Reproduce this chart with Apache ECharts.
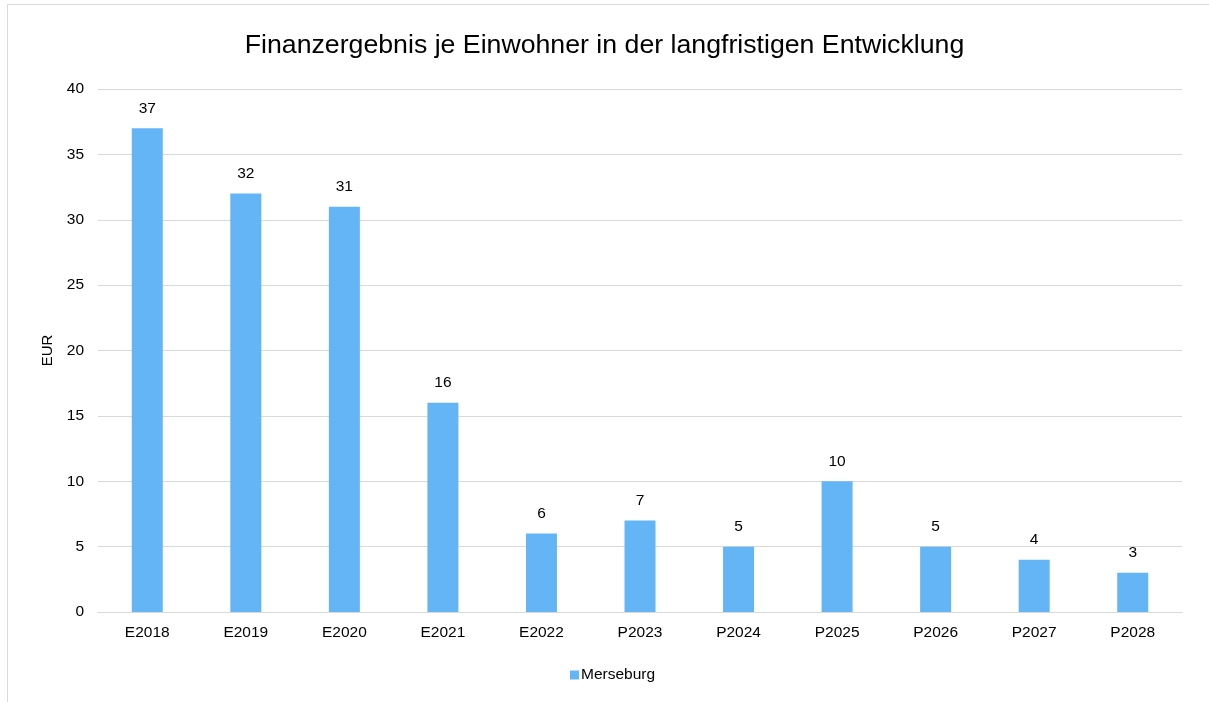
<!DOCTYPE html>
<html>
<head>
<meta charset="utf-8">
<script src="https://cdn.jsdelivr.net/npm/echarts@6/dist/echarts.min.js"></script>
<style>
  html,body{margin:0;padding:0;background:#fff;}
  #frame{position:absolute;left:7px;top:4px;width:1210px;height:710px;border:1px solid #d9d9d9;box-sizing:border-box;}
  #main{position:absolute;left:0;top:0;width:1209px;height:702px;}
</style>
</head>
<body>
<div id="frame"></div>
<div id="main"></div>
<script>
var categories = ['E2018','E2019','E2020','E2021','E2022','P2023','P2024','P2025','P2026','P2027','P2028'];
var values = [37, 32, 31, 16, 6, 7, 5, 10, 5, 4, 3];
var seriesName = 'Merseburg';
var titleText = 'Finanzergebnis je Einwohner in der langfristigen Entwicklung';

var myChart = echarts.init(document.getElementById('main'));
var font = 'Liberation Sans, Arial, sans-serif';
var option = {
    animation: false,
    textStyle: { fontFamily: font },
    title: {
        text: titleText,
        left: 'center',
        top: 27,
        textStyle: { fontSize: 26.7, fontWeight: 'normal', color: '#000', fontFamily: font }
    },
    legend: {
        data: [seriesName],
        bottom: 14,
        left: 565,
        icon: 'rect',
        itemWidth: 9,
        itemHeight: 9,
        itemGap: 4,
        textStyle: { fontSize: 15.5, color: '#000', padding: [0,0,0,-3] }
    },
    grid: { left: 98, right: 27, top: 89, bottom: 90, containLabel: false },
    xAxis: {
        type: 'category',
        data: categories,
        axisLine: { lineStyle: { color: '#d9d9d9', width: 1 } },
        axisTick: { show: false },
        axisLabel: { color: '#000', fontSize: 15.5, margin: 13 }
    },
    yAxis: {
        type: 'value',
        min: 0,
        max: 40,
        interval: 5,
        name: 'EUR',
        nameLocation: 'middle',
        nameGap: 43,
        nameTextStyle: { color: '#000', fontSize: 15 },
        axisLine: { show: false },
        axisTick: { show: false },
        splitLine: { lineStyle: { color: '#d9d9d9', width: 1 } },
        axisLabel: { color: '#000', fontSize: 15.5, margin: 14 }
    },
    series: [{
        name: seriesName,
        type: 'bar',
        barWidth: 31,
        data: values,
        itemStyle: { color: '#63b5f6' },
        label: { show: true, position: 'top', distance: 12, color: '#000', fontSize: 15.5 }
    }]
};
myChart.setOption(option);
</script>
</body>
</html>
